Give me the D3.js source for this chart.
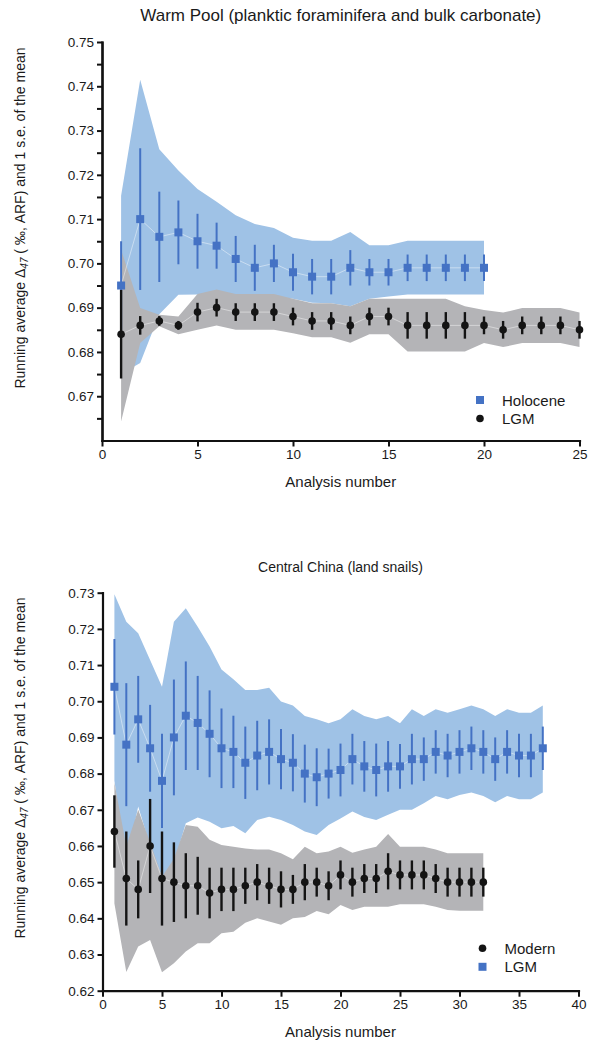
<!DOCTYPE html>
<html>
<head>
<meta charset="utf-8">
<script src="https://cdn.jsdelivr.net/npm/d3@7"></script>
<style>
  body { margin: 0; background: #fff; }
  text { font-family: "Liberation Sans", Arial, Helvetica, sans-serif; fill: #1a1a1a; }
</style>
</head>
<body>
<svg id="chart" width="589" height="1042"></svg>
<script>
// ---- Warm Pool (top panel) ----
const holoMean = [0.695, 0.710, 0.706, 0.707, 0.705, 0.704, 0.701, 0.699, 0.700, 0.698,
                  0.697, 0.697, 0.699, 0.698, 0.698, 0.699, 0.699, 0.699, 0.699, 0.699];
const holoSe   = [0.010, 0.016, 0.0102, 0.0072, 0.0062, 0.0052, 0.0052, 0.0052, 0.0042, 0.0042,
                  0.004, 0.004, 0.004, 0.003, 0.003, 0.003, 0.003, 0.003, 0.003, 0.003];
const holoHi   = [0.7153, 0.7415, 0.7258, 0.721, 0.7168, 0.7139, 0.7109, 0.7089, 0.708, 0.7058,
                  0.7051, 0.7051, 0.7071, 0.7041, 0.7041, 0.7051, 0.7051, 0.7051, 0.7051, 0.7051];
const holoLo   = [0.675, 0.6775, 0.6885, 0.6929, 0.693, 0.693, 0.6928, 0.6926, 0.6925, 0.692,
                  0.6911, 0.691, 0.6903, 0.692, 0.6925, 0.693, 0.693, 0.693, 0.693, 0.693];

const wpLgmMean = [0.684, 0.686, 0.687, 0.686, 0.689, 0.690, 0.689, 0.689, 0.689, 0.688,
                   0.687, 0.687, 0.686, 0.688, 0.688, 0.686, 0.686, 0.686, 0.686, 0.686,
                   0.685, 0.686, 0.686, 0.686, 0.685];
const wpLgmSe   = [0.010, 0.0021, 0.0011, 0.001, 0.0021, 0.002, 0.002, 0.002, 0.002, 0.002,
                   0.002, 0.002, 0.002, 0.002, 0.002, 0.003, 0.003, 0.003, 0.003, 0.002,
                   0.002, 0.002, 0.002, 0.002, 0.002];
const wpLgmHi   = [0.7031, 0.6899, 0.6884, 0.688, 0.6931, 0.6941, 0.6931, 0.6931, 0.6931, 0.692,
                   0.691, 0.691, 0.6903, 0.692, 0.692, 0.692, 0.692, 0.692, 0.6903, 0.6895,
                   0.6889, 0.6899, 0.6899, 0.6899, 0.6889];
const wpLgmLo   = [0.6643, 0.682, 0.6858, 0.684, 0.685, 0.686, 0.685, 0.685, 0.685, 0.6842,
                   0.6833, 0.6833, 0.6821, 0.684, 0.684, 0.6801, 0.6801, 0.6801, 0.6801, 0.682,
                   0.6811, 0.682, 0.682, 0.682, 0.6811];

// ---- Central China (bottom panel) ----
const ccLgmMean = [0.704, 0.688, 0.695, 0.687, 0.678, 0.690, 0.696, 0.694, 0.691, 0.687,
                   0.686, 0.683, 0.685, 0.686, 0.684, 0.683, 0.680, 0.679, 0.680, 0.681,
                   0.684, 0.682, 0.681, 0.682, 0.682, 0.684, 0.684, 0.686, 0.685, 0.686,
                   0.687, 0.686, 0.684, 0.686, 0.685, 0.685, 0.687];
const ccLgmSe   = [0.0132, 0.017, 0.012, 0.012, 0.013, 0.016, 0.015, 0.013, 0.012, 0.011,
                   0.010, 0.010, 0.0096, 0.009, 0.0083, 0.0079, 0.008, 0.008, 0.0069, 0.0073,
                   0.007, 0.007, 0.0073, 0.007, 0.0062, 0.007, 0.006, 0.006, 0.006, 0.006,
                   0.006, 0.006, 0.006, 0.006, 0.006, 0.006, 0.006];
const ccLgmHi   = [0.7296, 0.722, 0.7188, 0.7114, 0.704, 0.722, 0.7257, 0.7206, 0.7151, 0.7088,
                   0.7061, 0.7031, 0.7031, 0.7037, 0.6999, 0.6988, 0.6959, 0.695, 0.6939, 0.695,
                   0.6978, 0.6959, 0.695, 0.6959, 0.6939, 0.6978, 0.6959, 0.6978, 0.6968, 0.6978,
                   0.6988, 0.6978, 0.6959, 0.6978, 0.6968, 0.6968, 0.6988];
const ccLgmLo   = [0.678, 0.655, 0.6709, 0.660, 0.6515, 0.655, 0.6663, 0.6679, 0.6667, 0.6649,
                   0.6655, 0.6635, 0.6672, 0.6681, 0.6672, 0.6658, 0.664, 0.663, 0.6658, 0.6676,
                   0.6695, 0.668, 0.6672, 0.6686, 0.670, 0.670, 0.6718, 0.6738, 0.6729, 0.6741,
                   0.6748, 0.6738, 0.6721, 0.6738, 0.6729, 0.6729, 0.6748];

const modMean = [0.664, 0.651, 0.648, 0.660, 0.651, 0.650, 0.649, 0.649, 0.647, 0.648,
                 0.648, 0.649, 0.650, 0.649, 0.648, 0.648, 0.650, 0.650, 0.649, 0.652,
                 0.650, 0.651, 0.651, 0.653, 0.652, 0.652, 0.652, 0.651, 0.650, 0.650,
                 0.650, 0.650];
const modSe   = [0.010, 0.013, 0.008, 0.013, 0.013, 0.011, 0.009, 0.008, 0.007, 0.006,
                 0.006, 0.005, 0.005, 0.005, 0.005, 0.004, 0.005, 0.004, 0.004, 0.004,
                 0.004, 0.004, 0.004, 0.005, 0.004, 0.004, 0.004, 0.004, 0.004, 0.004,
                 0.004, 0.004];
const modHi   = [0.6775, 0.660, 0.670, 0.661, 0.6515, 0.6565, 0.6658, 0.6653, 0.6617, 0.6603,
                 0.6598, 0.6593, 0.659, 0.659, 0.658, 0.6563, 0.6598, 0.658, 0.6585, 0.6598,
                 0.6581, 0.659, 0.6598, 0.6633, 0.6598, 0.6598, 0.6598, 0.659, 0.658, 0.658,
                 0.658, 0.658];
const modLo   = [0.6441, 0.6252, 0.6322, 0.634, 0.6251, 0.6276, 0.6308, 0.6331, 0.6331, 0.6359,
                 0.6363, 0.6388, 0.64, 0.6391, 0.6382, 0.64, 0.6404, 0.642, 0.6411, 0.6437,
                 0.6423, 0.6432, 0.6432, 0.6432, 0.6439, 0.6439, 0.6439, 0.6432, 0.6423, 0.6421,
                 0.6421, 0.6421];

// ticks
const topXTicks = [0, 5, 10, 15, 20, 25];
const topYTicks = [0.67, 0.68, 0.69, 0.70, 0.71, 0.72, 0.73, 0.74, 0.75];
const topYMinor = [0.665, 0.675, 0.685, 0.695, 0.705, 0.715, 0.725, 0.735, 0.745];
const botXTicks = [0, 5, 10, 15, 20, 25, 30, 35, 40];
const botYTicks = [0.62, 0.63, 0.64, 0.65, 0.66, 0.67, 0.68, 0.69, 0.70, 0.71, 0.72, 0.73];

const BLUE_BAND = "#9fc2e6", BLUE = "#4472c4";
const GREY_BAND = "#b4b4b7", BLACK = "#141414";

const svg = d3.select("#chart");

function panel(p) {
    let g = svg.append("g");
    let x = d3.scaleLinear().domain(p.xDomain).range([p.left, p.right]);
    let y = d3.scaleLinear().domain(p.yDomain).range([p.bottom, p.top]);

    // shaded bands
    p.series.forEach(s => {
        let area = d3.area()
            .x((d, i) => x(i + 1))
            .y0((d, i) => y(s.lo[i]))
            .y1((d, i) => y(s.hi[i]));
        g.append("path").datum(s.mean).attr("d", area).attr("fill", s.band);
    });

    // thin connecting lines
    p.series.forEach(s => {
        let line = d3.line().x((d, i) => x(i + 1)).y(d => y(d));
        g.append("path").datum(s.mean).attr("d", line)
            .attr("fill", "none").attr("stroke", "rgba(255,255,255,0.55)").attr("stroke-width", 0.8);
    });

    // error bars + markers
    p.drawOrder.forEach(s => {
        s.mean.forEach((m, i) => {
            g.append("line")
                .attr("x1", x(i + 1)).attr("x2", x(i + 1))
                .attr("y1", y(m - s.se[i])).attr("y2", y(m + s.se[i]))
                .attr("stroke", s.color).attr("stroke-width", s.shape === "square" ? 2 : 2.4);
        });
        s.mean.forEach((m, i) => {
            if (s.shape === "square") {
                g.append("rect").attr("x", x(i + 1) - 4).attr("y", y(m) - 4)
                    .attr("width", 8).attr("height", 8).attr("fill", s.color);
            } else {
                g.append("circle").attr("cx", x(i + 1)).attr("cy", y(m))
                    .attr("r", 3.8).attr("fill", s.color);
            }
        });
    });

    // axes
    g.append("g").attr("transform", `translate(${p.left},0)`)
        .call(d3.axisLeft(y).tickValues(p.yTicks).tickFormat(d3.format(".2f"))
            .tickSize(5).tickSizeOuter(0).tickPadding(3));
    if (p.yMinor) {
        g.append("g").attr("transform", `translate(${p.left},0)`)
            .call(d3.axisLeft(y).tickValues(p.yMinor).tickFormat("").tickSize(5).tickSizeOuter(0));
    }
    g.append("g").attr("transform", `translate(0,${p.bottom})`)
        .call(d3.axisBottom(x).tickValues(p.xTicks).tickFormat(d3.format("d"))
            .tickSize(6).tickSizeOuter(0).tickPadding(3));

    g.selectAll(".domain").attr("stroke", "#111").attr("stroke-width", 2.2).attr("stroke-linecap", "square");
    g.selectAll(".tick line").attr("stroke", "#111").attr("stroke-width", 2);
    g.selectAll(".tick text").attr("font-size", "13.5px").attr("fill", "#222")
        .attr("font-family", '"Liberation Sans", Arial, sans-serif');

    // title
    g.append("text").attr("x", (p.left + p.right) / 2).attr("y", p.top - 21)
        .attr("text-anchor", "middle").attr("font-size", p.titleSize).text(p.title);

    // x axis title
    g.append("text").attr("x", (p.left + p.right) / 2).attr("y", p.bottom + 46)
        .attr("text-anchor", "middle").attr("font-size", "15px").text("Analysis number");

    // y axis title
    let yl = g.append("text")
        .attr("transform", `translate(25,${p.yLabelMid}) rotate(-90)`)
        .attr("text-anchor", "middle").attr("font-size", "14px");
    yl.append("tspan").text("Running average Δ");
    yl.append("tspan").attr("font-size", "10px").attr("font-style", "italic")
        .attr("dy", 3).text("47");
    yl.append("tspan").attr("dy", -3).text(" ( ‰, ARF) and 1 s.e. of the mean");

    // legend
    p.legend.forEach((L, k) => {
        let ly = p.legendY + k * 18.5;
        if (L.shape === "square") {
            g.append("rect").attr("x", p.legendX - 4).attr("y", ly - 4)
                .attr("width", 8).attr("height", 8).attr("fill", L.color);
        } else {
            g.append("circle").attr("cx", p.legendX).attr("cy", ly).attr("r", 3.8).attr("fill", L.color);
        }
        g.append("text").attr("x", p.legendX + 22).attr("y", ly + 5.5)
            .attr("font-size", "15px").text(L.label);
    });
}

const holo  = { mean: holoMean, se: holoSe, hi: holoHi, lo: holoLo, band: BLUE_BAND, color: BLUE, shape: "square" };
const wpLgm = { mean: wpLgmMean, se: wpLgmSe, hi: wpLgmHi, lo: wpLgmLo, band: GREY_BAND, color: BLACK, shape: "circle" };
const ccLgm = { mean: ccLgmMean, se: ccLgmSe, hi: ccLgmHi, lo: ccLgmLo, band: BLUE_BAND, color: BLUE, shape: "square" };
const mod   = { mean: modMean, se: modSe, hi: modHi, lo: modLo, band: GREY_BAND, color: BLACK, shape: "circle" };

panel({
    title: "Warm Pool (planktic foraminifera and bulk carbonate)", titleSize: "17px",
    left: 102, right: 579.5, top: 42, bottom: 440.5,
    xDomain: [0, 25], yDomain: [0.66, 0.75],
    xTicks: topXTicks, yTicks: topYTicks, yMinor: topYMinor,
    series: [holo, wpLgm], drawOrder: [holo, wpLgm],
    yLabelMid: 218,
    legendX: 480, legendY: 400,
    legend: [{ label: "Holocene", shape: "square", color: BLUE }, { label: "LGM", shape: "circle", color: BLACK }]
});

panel({
    title: "Central China (land snails)", titleSize: "14px",
    left: 102.5, right: 578.5, top: 592.7, bottom: 990.7,
    xDomain: [0, 40], yDomain: [0.62, 0.73],
    xTicks: botXTicks, yTicks: botYTicks, yMinor: null,
    series: [ccLgm, mod], drawOrder: [ccLgm, mod],
    yLabelMid: 768,
    legendX: 482.5, legendY: 948.3,
    legend: [{ label: "Modern", shape: "circle", color: BLACK }, { label: "LGM", shape: "square", color: BLUE }]
});
</script>
</body>
</html>
